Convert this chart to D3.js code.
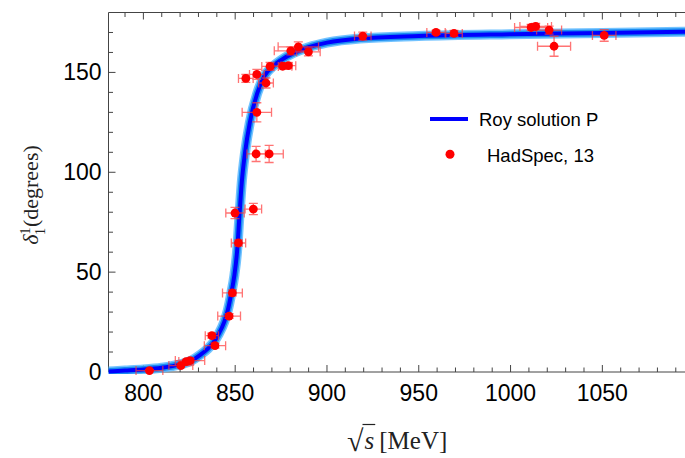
<!DOCTYPE html>
<html>
<head>
<meta charset="utf-8">
<script src="https://cdn.jsdelivr.net/npm/d3@7"></script>
<style>
  html, body { margin: 0; padding: 0; background: #fff; }
  svg { display: block; }
</style>
</head>
<body>
<div id="chart"></div>
<script>
// P-wave phase shift, sqrt(s) in MeV, delta in degrees

// Roy solution P: curve samples [sqrt(s), delta]
const royCurve = [
  [781, 0.3], [790, 0.7], [800, 1.2], [810, 2.1], [820, 3.8], [826, 5.6],
  [831, 8.6], [835, 11.6], [838, 14.6], [841, 19], [844, 25], [846, 31],
  [848, 40], [849.5, 48], [851, 60], [852.3, 78], [853.6, 95], [855.4, 110],
  [858, 125], [862, 139.5], [866, 148.3], [870, 152.6], [875, 156.2],
  [882, 159.8], [890, 162.6], [900, 164.9], [918, 167], [950, 168.2],
  [1000, 169.1], [1050, 169.7], [1096, 170.4]
];

// HadSpec 13 lattice points
const hsE    = [803.3, 820.4, 823.3, 825.4, 837.3, 839.0, 846.7, 848.5, 849.9, 851.8,
                855.8, 859.9, 861.4, 861.8, 861.8, 866.8, 868.5, 869.0, 875.9, 879.0,
                880.3, 884.4, 889.9, 919.5, 959.4, 969.2, 1011.2, 1013.7, 1021.0, 1023.7, 1051.0];
const hsDelta = [0.7, 3.2, 5.2, 5.7, 18.2, 13.2, 28.0, 39.6, 79.6, 64.6,
                147.0, 81.6, 109.2, 130.0, 149.0, 144.7, 109.2, 153.0, 153.1, 153.4,
                160.8, 162.8, 160.3, 168.2, 170.0, 169.5, 172.5, 173.0, 171.2, 163.1, 168.5];
const hsErrE = [7.3, 6.5, 4.0, 8.0, 3.6, 5.8, 6.2, 5.4, 5.0, 3.9,
                4.0, 4.5, 5.0, 8.0, 4.0, 4.0, 7.7, 4.5, 5.0, 4.0,
                9.0, 11.0, 6.4, 4.5, 5.0, 4.5, 9.0, 8.6, 6.8, 9.0, 6.4];
const hsErrDelta = [0.5, 1.0, 1.0, 1.0, 1.2, 1.2, 1.2, 1.5, 2.8, 1.5,
                2.0, 2.8, 3.8, 4.8, 2.5, 2.5, 4.3, 2.0, 1.5, 1.5,
                2.0, 2.5, 2.0, 2.0, 1.0, 1.5, 1.5, 1.5, 2.0, 5.0, 2.9];

const xTicks = [800, 850, 900, 950, 1000, 1050];
const yTicks = [0, 50, 100, 150];
const legendLabels = ["Roy solution P", "HadSpec, 13"];

const W = 685, H = 458;
const svg = d3.select("#chart").append("svg")
  .attr("width", W).attr("height", H);

const x = d3.scaleLinear().domain([781, 1096]).range([108.5, 686.8]);
const y = d3.scaleLinear().domain([0, 180]).range([372, 12.5]);

const frameColor = "#444";
const sansFont = "'Liberation Sans', Arial, sans-serif";
const serifFont = "'Liberation Serif', 'DejaVu Serif', serif";

// frame
const x0 = x.range()[0], x1 = x.range()[1], yb = y.range()[0], yt = y.range()[1];
svg.append("path")
  .attr("d", `M${x1},${yt}H${x0}V${yb}H${x1}`)
  .attr("fill", "none").attr("stroke", frameColor).attr("stroke-width", 1);

// ticks (inward, on bottom/top/left)
const xMinor = d3.range(790, 1096, 10);
const yMinor = d3.range(10, 180, 10);
const tickG = svg.append("g").attr("stroke", frameColor).attr("stroke-width", 1);
xMinor.forEach(v => {
  const major = xTicks.includes(v);
  const len = major ? 7 : 4.5;
  tickG.append("line").attr("x1", x(v)).attr("x2", x(v)).attr("y1", yb).attr("y2", yb - len);
  tickG.append("line").attr("x1", x(v)).attr("x2", x(v)).attr("y1", yt).attr("y2", yt + len);
});
yMinor.forEach(v => {
  const major = yTicks.includes(v);
  const len = major ? 7 : 4.5;
  tickG.append("line").attr("x1", x0).attr("x2", x0 + len).attr("y1", y(v)).attr("y2", y(v));
});

// tick labels
svg.append("g").selectAll("text").data(xTicks).join("text")
  .attr("x", d => x(d)).attr("y", 401)
  .attr("text-anchor", "middle")
  .attr("font-family", sansFont).attr("font-size", 23).attr("fill", "#000")
  .text(d => d);
svg.append("g").selectAll("text").data(yTicks).join("text")
  .attr("x", 101.5).attr("y", d => y(d)).attr("dy", "0.35em")
  .attr("text-anchor", "end")
  .attr("font-family", sansFont).attr("font-size", 23).attr("fill", "#000")
  .text(d => d);

// Roy solution curve with its band
const line = d3.line().x(d => x(d[0])).y(d => y(d[1])).curve(d3.curveMonotoneX);
svg.append("clipPath").attr("id", "plotClip")
  .append("rect").attr("x", x0).attr("y", yt - 2).attr("width", x1 - x0).attr("height", yb - yt + 4);
const curveG = svg.append("g").attr("clip-path", "url(#plotClip)");
curveG.append("path").datum(royCurve).attr("d", line)
  .attr("fill", "none").attr("stroke", "#5bb8ff").attr("stroke-width", 10)
  .attr("stroke-linecap", "round").attr("stroke-linejoin", "round").attr("opacity", 0.85);
curveG.append("path").datum(royCurve).attr("d", line)
  .attr("fill", "none").attr("stroke", "#1a8cf0").attr("stroke-width", 7)
  .attr("stroke-linejoin", "round");
curveG.append("path").datum(royCurve).attr("d", line)
  .attr("fill", "none").attr("stroke", "#0000ff").attr("stroke-width", 4)
  .attr("stroke-linejoin", "round");

// error bars
const pts = hsE.map((e, i) => ({ e, d: hsDelta[i], ee: hsErrE[i], ed: hsErrDelta[i] }));
const cap = 4.5;
const errG = svg.append("g").attr("stroke", "#ff3a3a").attr("stroke-width", 1.3)
  .attr("opacity", 0.7).attr("fill", "none");
pts.forEach(p => {
  const cx = x(p.e), cy = y(p.d);
  const xl = x(p.e - p.ee), xr = x(p.e + p.ee);
  const yl = y(p.d - p.ed), yh = y(p.d + p.ed);
  errG.append("path").attr("d",
    `M${xl},${cy}H${xr}M${xl},${cy - cap}V${cy + cap}M${xr},${cy - cap}V${cy + cap}` +
    `M${cx},${yl}V${yh}M${cx - cap},${yl}H${cx + cap}M${cx - cap},${yh}H${cx + cap}`);
});

// points
svg.append("g").selectAll("circle").data(pts).join("circle")
  .attr("cx", p => x(p.e)).attr("cy", p => y(p.d)).attr("r", 4.4)
  .attr("fill", "#ff0000");

// legend
const lg = svg.append("g");
lg.append("line").attr("x1", 430).attr("x2", 468).attr("y1", 119).attr("y2", 119)
  .attr("stroke", "#0000ff").attr("stroke-width", 4);
lg.append("text").attr("x", 479).attr("y", 126)
  .attr("font-family", sansFont).attr("font-size", 18.5).attr("fill", "#000")
  .text(legendLabels[0]);
lg.append("circle").attr("cx", 450).attr("cy", 154.3).attr("r", 4.5).attr("fill", "#ff0000");
lg.append("text").attr("x", 487).attr("y", 161.7)
  .attr("font-family", sansFont).attr("font-size", 18.5).attr("fill", "#000")
  .text(legendLabels[1]);

// y-axis title: delta_1^1 (degrees)
const yTitle = svg.append("text")
  .attr("transform", "translate(38,195) rotate(-90)")
  .attr("text-anchor", "middle")
  .attr("font-family", serifFont).attr("font-size", 22).attr("fill", "#222");
yTitle.append("tspan").attr("font-style", "italic").text("δ");
yTitle.append("tspan").attr("font-size", 14).attr("dy", -8).text("1");
yTitle.append("tspan").attr("font-size", 14).attr("dx", -7).attr("dy", 15).text("1");
yTitle.append("tspan").attr("dy", -7).attr("dx", 1).text("(degrees)");

// x-axis title: sqrt(s) [MeV]
const xt = svg.append("g").attr("font-family", serifFont).attr("fill", "#222");
const rad = xt.append("text").attr("x", 347).attr("y", 451).attr("font-size", 30).text("√");
const radBox = rad.node().getBBox();
const sText = xt.append("text").attr("x", radBox.x + radBox.width + 0.5).attr("y", 448.5)
  .attr("font-size", 25).attr("font-style", "italic").text("s");
const sBox = sText.node().getBBox();
xt.append("line")
  .attr("x1", radBox.x + radBox.width - 1.5).attr("x2", sBox.x + sBox.width + 1)
  .attr("y1", 424.5).attr("y2", 424.5)
  .attr("stroke", "#222").attr("stroke-width", 1.2);
xt.append("text").attr("x", sBox.x + sBox.width + 5).attr("y", 448.5)
  .attr("font-size", 25).text("[MeV]");
</script>
</body>
</html>
